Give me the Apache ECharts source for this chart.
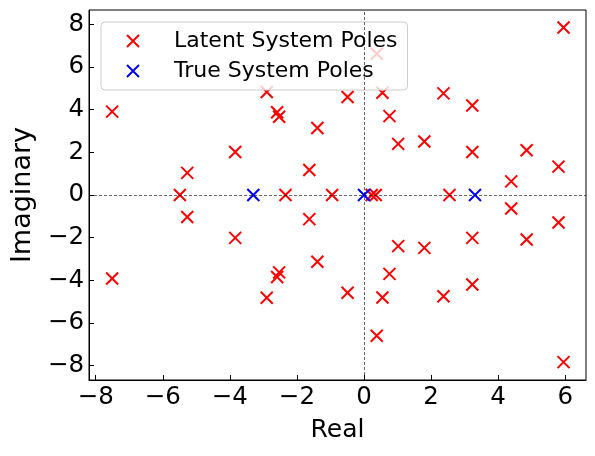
<!DOCTYPE html>
<html>
<head>
<meta charset="utf-8">
<script src="https://cdn.jsdelivr.net/npm/echarts@6/dist/echarts.min.js"></script>
<style>html,body{margin:0;padding:0;background:#fff;}#c{width:595px;height:456px;}</style>
</head>
<body>
<div id="c"></div>
<script>
const latentReal = [-5.49, -2.34, -0.95, 0.23, 0.35, 2.55,
  -7.51, -7.51, -5.27, -5.27, -3.84, -3.84, -2.90, -2.90, -2.59, -2.59, -2.53, -2.53,
  -1.63, -1.63, -1.39, -1.39, -0.49, -0.49, 0.38, 0.38, 0.55, 0.55, 0.76, 0.76,
  1.02, 1.02, 1.80, 1.80, 2.37, 2.37, 3.23, 3.23, 3.23, 3.23, 4.39, 4.39,
  4.85, 4.85, 5.80, 5.80, 5.95, 5.95];
const latentImag = [0, 0, 0, 0, 0, 0,
  3.91, -3.92, 1.04, -1.03, 2.02, -2.01, 4.83, -4.82, 3.88, -3.85, 3.67, -3.63,
  1.17, -1.13, 3.14, -3.13, 4.60, -4.59, 6.63, -6.60, 4.80, -4.81, 3.70, -3.70,
  2.40, -2.40, 2.51, -2.48, 4.77, -4.75, 4.20, -4.20, 2.02, -2.01, 0.64, -0.63,
  2.10, -2.09, 1.33, -1.29, 7.86, -7.84];
const trueReal = [-3.30, 0.0, 3.31];
const trueImag = [0, 0, 0];
const xTicks = [-8, -6, -4, -2, 0, 2, 4, 6];
const yTicks = [-8, -6, -4, -2, 0, 2, 4, 6, 8];
const seriesNames = ['Latent System Poles', 'True System Poles'];

const FONT = 'DejaVu Sans';
const X_SYMBOL = 'path://M0,0L10,10M10,0L0,10';
const fmt = v => (v < 0 ? '\u2212' + Math.abs(v) : String(v));
const zip = (a, b) => a.map((v, i) => [v, b[i]]);

const chart = echarts.init(document.getElementById('c'), null, {renderer: 'canvas'});
chart.setOption({
  animation: false,
  backgroundColor: '#ffffff',
  textStyle: {fontFamily: FONT},
  grid: {left: 89, right: 9, top: 10, bottom: 76, show: true, borderColor: '#000', borderWidth: 1, containLabel: false, outerBoundsMode: 'none'},
  legend: {
    data: seriesNames,
    orient: 'vertical',
    left: 101, top: 22,
    padding: [8, 10, 8, 25],
    itemWidth: 12, itemHeight: 12, itemGap: 8,
    backgroundColor: 'rgba(255,255,255,0.8)',
    borderColor: '#cccccc', borderWidth: 1, borderRadius: 4,
    textStyle: {fontSize: 22, fontFamily: FONT, color: '#000', padding: [0, 0, 0, 30]}
  },
  xAxis: {
    type: 'value', min: -8.2, max: 6.62,
    name: 'Real', nameLocation: 'middle', nameGap: 38,
    nameTextStyle: {fontSize: 25, fontFamily: FONT, color: '#000'},
    axisLine: {show: true, onZero: false, lineStyle: {color: '#000', width: 1}},
    axisTick: {show: true, inside: true, length: 5, customValues: xTicks, lineStyle: {color: '#000', width: 1}},
    axisLabel: {customValues: xTicks, formatter: fmt, fontSize: 24.5, fontFamily: FONT, color: '#000', margin: 5},
    splitLine: {show: false}
  },
  yAxis: {
    type: 'value', min: -8.68, max: 8.68,
    name: 'Imaginary', nameLocation: 'middle', nameGap: 51,
    nameTextStyle: {fontSize: 27, fontFamily: FONT, color: '#000'},
    axisLine: {show: true, onZero: false, lineStyle: {color: '#000', width: 1}},
    axisTick: {show: true, inside: true, length: 5, customValues: yTicks, lineStyle: {color: '#000', width: 1}},
    axisLabel: {customValues: yTicks, formatter: fmt, fontSize: 24.5, fontFamily: FONT, color: '#000', margin: 5},
    splitLine: {show: false}
  },
  series: [
    {
      type: 'scatter', name: 'zero-lines', data: [], z: 1,
      markLine: {
        silent: true, symbol: ['none', 'none'], label: {show: false},
        lineStyle: {color: '#000', type: [3, 2], width: 0.6},
        data: [{xAxis: 0}, {yAxis: 0}]
      }
    },
    {
      type: 'scatter', name: seriesNames[0], z: 2,
      data: zip(latentReal, latentImag),
      symbol: X_SYMBOL, symbolSize: 12,
      itemStyle: {color: '#ff0000', borderColor: '#ff0000', borderWidth: 2, opacity: 1}
    },
    {
      type: 'scatter', name: seriesNames[1], z: 3,
      data: zip(trueReal, trueImag),
      symbol: X_SYMBOL, symbolSize: 12,
      itemStyle: {color: '#0000ff', borderColor: '#0000ff', borderWidth: 2, opacity: 1}
    }
  ]
});
</script>
</body>
</html>
